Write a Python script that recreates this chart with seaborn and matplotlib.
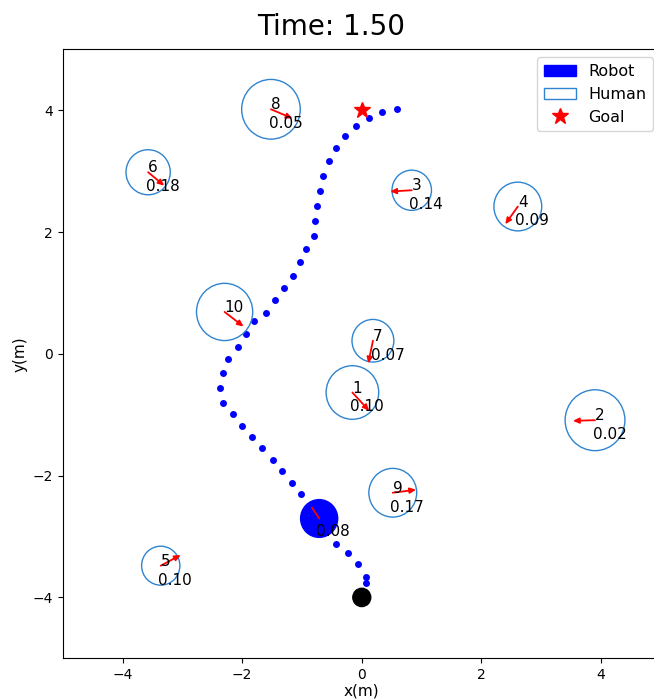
import matplotlib
matplotlib.use("Agg")
import matplotlib.pyplot as plt
import matplotlib.patches as patches
import matplotlib.lines as mlines
import seaborn as sns
import pandas as pd

# ---- data ----
traj_x = [0.077, 0.072, -0.067, -0.229, -0.434, -0.579, -0.713, -0.880, -1.018, -1.175,
          -1.331, -1.492, -1.664, -1.831, -1.998, -2.160, -2.327, -2.377, -2.321, -2.232,
          -2.077, -1.943, -1.803, -1.598, -1.452, -1.309, -1.142, -1.030, -0.925, -0.796,
          -0.785, -0.741, -0.696, -0.646, -0.551, -0.434, -0.284, -0.095, 0.122, 0.344, 0.594]
traj_y = [-3.762, -3.657, -3.455, -3.263, -3.115, -2.913, -2.704, -2.502, -2.305, -2.120,
          -1.923, -1.747, -1.550, -1.369, -1.177, -0.992, -0.800, -0.553, -0.314, -0.077,
          0.113, 0.333, 0.535, 0.678, 0.880, 1.089, 1.274, 1.504, 1.722, 1.943,
          2.189, 2.435, 2.681, 2.928, 3.163, 3.381, 3.573, 3.742, 3.880, 3.972, 4.021]

human_ids = [1, 2, 3, 4, 5, 6, 7, 8, 9, 10]
human_x = [-0.157, 3.900, 0.835, 2.609, -3.362, -3.573, 0.186, -1.519, 0.518, -2.294]
human_y = [-0.635, -1.090, 2.686, 2.419, -3.479, 2.982, 0.215, 4.016, -2.281, 0.688]
human_r = [0.44, 0.50, 0.33, 0.40, 0.32, 0.37, 0.35, 0.49, 0.40, 0.47]
human_vx = [0.28, -0.37, -0.36, -0.21, 0.334, 0.27, -0.078, 0.36, 0.39, 0.317]
human_vy = [-0.30, -0.01, -0.02, -0.29, 0.176, -0.22, -0.373, -0.15, 0.05, -0.24]
human_values = ["0.10", "0.02", "0.14", "0.09", "0.10", "0.18", "0.07", "0.05", "0.17", ""]

robot_pos = (-0.713, -2.704)
robot_r = 0.31
robot_v = (-0.12, 0.18)
robot_value = "0.08"

start_pos = (0.0, -4.0)
start_r = 0.15
goal_pos = (0.0, 4.0)
title_text = "Time: 1.50"

# ---- figure ----
fig = plt.figure(figsize=(6.54, 6.99), dpi=100)
ax = fig.add_axes([0.0960, 0.0582, 0.9144, 0.8712])
ax.set_xlim(-5, 5)
ax.set_ylim(-5, 5)

traj = pd.DataFrame({"x": traj_x, "y": traj_y})
sns.scatterplot(data=traj, x="x", y="y", color="blue", s=25, linewidth=0, ax=ax, zorder=2)

arrow_style = patches.ArrowStyle("-|>", head_length=3.5, head_width=1.6)
circle_color = "#2f84d0"

for hid, hx, hy, hr, vx, vy, val in zip(human_ids, human_x, human_y, human_r,
                                         human_vx, human_vy, human_values):
    ax.add_patch(patches.Circle((hx, hy), hr, fill=False, edgecolor=circle_color,
                                linewidth=1.0, zorder=3))
    ax.add_patch(patches.FancyArrowPatch((hx, hy), (hx + vx, hy + vy), color="red",
                                         arrowstyle=arrow_style, mutation_scale=1,
                                         linewidth=1.3, shrinkA=0, shrinkB=0, zorder=4))
    ax.text(hx, hy, str(hid), fontsize=11, color="black", ha="left", va="baseline", zorder=5)
    if val:
        ax.text(hx - 0.04, hy - 0.31, val, fontsize=11, color="black",
                ha="left", va="baseline", zorder=5)

ax.add_patch(patches.Circle(start_pos, start_r, color="black", zorder=3))
ax.add_patch(patches.Circle(robot_pos, robot_r, color="blue", zorder=3))
ax.add_patch(patches.FancyArrowPatch(robot_pos, (robot_pos[0] + robot_v[0], robot_pos[1] + robot_v[1]),
                                     color="red", arrowstyle="-", linewidth=1.3,
                                     shrinkA=0, shrinkB=0, zorder=4))
ax.text(robot_pos[0] - 0.05, robot_pos[1] - 0.29, robot_value, fontsize=11,
        color="black", ha="left", va="baseline", zorder=5)

ax.plot([goal_pos[0]], [goal_pos[1]], marker="*", color="red", linestyle="None",
        markersize=12, zorder=5)

robot_h = patches.Patch(facecolor="blue", edgecolor="blue", label="Robot")
human_h = patches.Patch(facecolor="white", edgecolor=circle_color, label="Human")
goal_h = mlines.Line2D([], [], color="red", marker="*", linestyle="None",
                       markersize=12, label="Goal")
ax.legend(handles=[robot_h, human_h, goal_h], loc="upper right", fontsize=11.5)

ax.set_xlabel("x(m)", fontsize=11, labelpad=1)
ax.set_ylabel("y(m)", fontsize=11)
ax.tick_params(labelsize=10)

fig.text(0.507, 0.962, title_text, fontsize=20, ha="center", va="center")

fig.savefig("out.png", dpi=100)
